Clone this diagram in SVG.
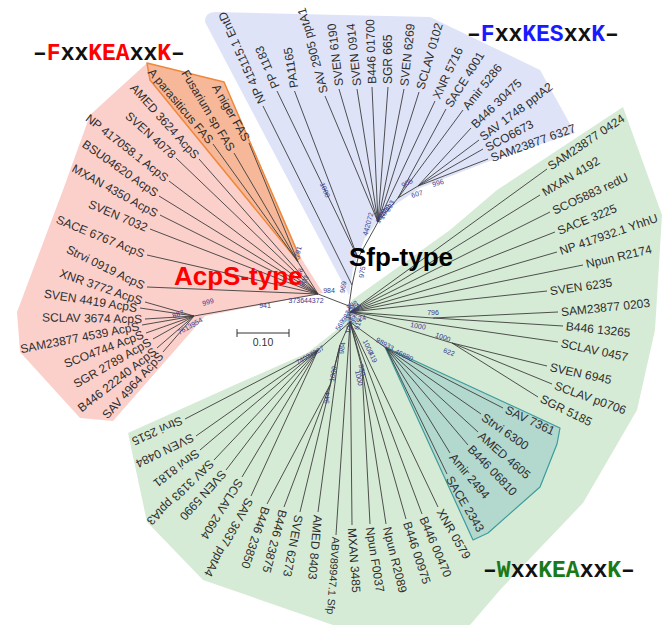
<svg xmlns="http://www.w3.org/2000/svg" width="669" height="625" viewBox="0 0 669 625">
<style>
.leaf{font-family:"Liberation Sans",Arial,sans-serif;font-size:12px;fill:#2e2e2e}
.bs{font-family:"Liberation Sans",Arial,sans-serif;font-size:7px;fill:#3a3a8c}
.br path{stroke:#3d3d3d;stroke-width:0.9;fill:none}
.motif{font-family:"Liberation Mono","Courier New",monospace;font-size:23px;font-weight:bold;fill:#111}
.type{font-family:"Liberation Sans",Arial,sans-serif;font-size:26px;font-weight:bold}
</style>
<rect width="669" height="625" fill="#ffffff"/>
<g id="regions">
<path id="bg-blue" d="M205,22 Q205,12 215,12 L430,17 L540,70 L575,133 L487,162 L420,188 L387,210 L365,238 L353,268 L349,295 Z" fill="#dee3f7"/>
<path id="bg-pink" d="M147,63 L224,82 L301,258 L323,293 L205,316 L113,421 L80,418 L20,352 L17,312 L63,190 L90,115 Z" fill="#fbd0cb"/>
<path id="bg-orange" d="M147,63 L224,82 L300,258 L297,260 L150,80 Z" fill="#f6b898" stroke="#ef883a" stroke-width="1.5" stroke-linejoin="round"/>
<path id="bg-green" d="M128,433 L230,387 L307,353 L343,325 L352,300 L450,230 L497,190 L623,107 L662,215 L655,330 L637,410 L583,503 L500,590 L470,625 L333,625 L203,580 L147,522 Z" fill="#d6ebd5"/>
<path id="bg-teal" d="M385,347 L560,428 L557,444 L540,487 L488,533 L473,540 Z" fill="#b3d8ce" stroke="#3d9c9c" stroke-width="1.2" stroke-linejoin="round"/>
</g>
<g id="connectors" class="br">
<path d="M263,106 L352,285"/><path d="M277,91 L358,258"/><path d="M294.5,91 L358,258"/>
<path d="M325,96 L378,222"/><path d="M339,89 L378,222"/><path d="M357,89 L378,222"/><path d="M372,87 L378,222"/><path d="M388,87 L378,222"/><path d="M404,89 L378,222"/><path d="M419,92 L378,222"/><path d="M435,101 L378,222"/>
<path d="M446,109 L398,198"/><path d="M463,110 L398,198"/>
<path d="M471,128 L418,186"/><path d="M479,140 L418,186"/><path d="M483,149 L418,186"/><path d="M488,159 L418,186"/>
<path d="M418,186 L398,198 L378,222 L358,258 L352,285 L349,306"/>
<path d="M213,144 L298,262"/><path d="M234,153 L298,262"/><path d="M249,143 L298,262"/><path d="M298,262 L318,294"/>
<path d="M199,159 L318,294"/><path d="M176,158 L318,294"/><path d="M169,181 L318,294"/><path d="M159,196 L318,294"/><path d="M160,215 L318,294"/><path d="M150,229 L318,294"/><path d="M147,255 L318,294"/><path d="M147,287 L318,294"/>
<path d="M145,302 L194,316"/><path d="M140,308 L194,316"/><path d="M145,319 L194,316"/><path d="M142,325 L194,316"/><path d="M146,333 L194,316"/><path d="M153,339 L194,316"/><path d="M157,348 L194,316"/><path d="M163,352 L194,316"/>
<path d="M194,316 L318,294 L349,306"/>
<path d="M349,306 L350,312 L350,322"/>
<path d="M547,169 L350,312"/><path d="M540,195 L350,312"/><path d="M550,212 L350,312"/><path d="M555,232 L350,312"/><path d="M557,252 L350,312"/><path d="M583,265 L350,312"/><path d="M547,291 L350,312"/>
<path d="M558,312 L433,318"/><path d="M563,326 L433,318"/><path d="M433,318 L350,312"/>
<path d="M558,342 L350,312"/>
<path d="M547,366 L452,343"/><path d="M552,384 L452,343"/><path d="M538,397 L452,343"/><path d="M452,343 L350,312"/>
<path d="M503,408 L386,348"/><path d="M481,414 L386,348"/><path d="M478,432 L386,348"/><path d="M468,445 L386,348"/><path d="M450,453 L386,348"/><path d="M447,474 L386,348"/><path d="M386,348 L350,322"/>
<path d="M438,507 L350,322"/><path d="M422,514 L350,322"/><path d="M406,519 L350,322"/>
<path d="M386,524 L362,368"/><path d="M370,524 L362,368"/><path d="M362,368 L350,322"/>
<path d="M352,525 L350,322"/><path d="M336,535 L350,322"/>
<path d="M318,512 L340,345"/><path d="M300,512 L340,345"/>
<path d="M284,507 L330,385"/><path d="M267,504 L330,385"/><path d="M330,385 L340,345 L350,322"/>
<path d="M251,496 L318,350"/><path d="M242,477 L318,350"/><path d="M226,470 L318,350"/><path d="M214,460 L318,350"/><path d="M200,450 L318,350"/><path d="M196,436 L318,350"/><path d="M185,419 L318,350"/><path d="M318,350 L350,322"/>
</g>
<g id="leaves-sfp" class="leaf">
<g id="n-entd"><text transform="translate(262,103) rotate(-114)" dy="0.35em">NP 415115.1 EntD</text></g>
<g id="n-pp1183"><text transform="translate(276,88) rotate(-113)" dy="0.35em">PP 1183</text></g>
<g id="n-pa1165"><text transform="translate(294,88) rotate(-99)" dy="0.35em">PA1165</text></g>
<g id="n-sav2905"><text transform="translate(324,93) rotate(-105)" dy="0.35em">SAV 2905 pptA1</text></g>
<g id="n-sven6190"><text transform="translate(339,86) rotate(-97)" dy="0.35em">SVEN 6190</text></g>
<g id="n-sven0914"><text transform="translate(357,86) rotate(-96)" dy="0.35em">SVEN 0914</text></g>
<g id="n-b44601700"><text transform="translate(372,84) rotate(-92)" dy="0.35em">B446 01700</text></g>
<g id="n-sgr665"><text transform="translate(388,84) rotate(-90)" dy="0.35em">SGR 665</text></g>
<g id="n-sven6269"><text transform="translate(404,86) rotate(-84)" dy="0.35em">SVEN 6269</text></g>
<g id="n-sclav0102"><text transform="translate(420,89) rotate(-74)" dy="0.35em">SCLAV 0102</text></g>
<g id="n-xnr5716"><text transform="translate(436,98) rotate(-65)" dy="0.35em">XNR 5716</text></g>
<g id="n-sace4001"><text transform="translate(448,106) rotate(-58)" dy="0.35em">SACE 4001</text></g>
<g id="n-amir5286"><text transform="translate(465,108) rotate(-51)" dy="0.35em">Amir 5286</text></g>
<g id="n-b44630475"><text transform="translate(473,126) rotate(-44)" dy="0.35em">B446 30475</text></g>
<g id="n-sav1748"><text transform="translate(481,138) rotate(-37)" dy="0.35em">SAV 1748 pptA2</text></g>
<g id="n-sco6673"><text transform="translate(486,148) rotate(-28)" dy="0.35em">SCO6673</text></g>
<g id="n-sam6327"><text transform="translate(491,158) rotate(-20)" dy="0.35em">SAM23877 6327</text></g>
</g>
<g id="leaves-acps" class="leaf" text-anchor="end">
<g id="n-apar"><text transform="translate(211,142) rotate(50)" dy="0.35em">A parasiticus FAS</text></g>
<g id="n-fus"><text transform="translate(232,150) rotate(59)" dy="0.35em">Fusarium sp FAS</text></g>
<g id="n-anig"><text transform="translate(247,140) rotate(60)" dy="0.35em">A niger FAS</text></g>
<g id="n-amed3624"><text transform="translate(197,157) rotate(48)" dy="0.35em">AMED 3624 AcpS</text></g>
<g id="n-sven4078"><text transform="translate(174,156) rotate(42)" dy="0.35em">SVEN 4078</text></g>
<g id="n-np417058"><text transform="translate(167,179) rotate(38)" dy="0.35em">NP 417058.1 AcpS</text></g>
<g id="n-bsu"><text transform="translate(157,194) rotate(35)" dy="0.35em">BSU04620 AcpS</text></g>
<g id="n-mxan4350"><text transform="translate(157,214) rotate(29)" dy="0.35em">MXAN 4350 AcpS</text></g>
<g id="n-sven7032"><text transform="translate(147,228) rotate(23)" dy="0.35em">SVEN 7032</text></g>
<g id="n-sace6767"><text transform="translate(144,254) rotate(22)" dy="0.35em">SACE 6767 AcpS</text></g>
<g id="n-strvi0919"><text transform="translate(144,286) rotate(26)" dy="0.35em">Strvi 0919 AcpS</text></g>
<g id="n-xnr3772"><text transform="translate(142,301) rotate(19)" dy="0.35em">XNR 3772 AcpS</text></g>
<g id="n-sven4419"><text transform="translate(137,308) rotate(9)" dy="0.35em">SVEN 4419 AcpS</text></g>
<g id="n-sclav3674"><text transform="translate(142,319) rotate(1)" dy="0.35em">SCLAV 3674 AcpS</text></g>
<g id="n-sam4539"><text transform="translate(139,326) rotate(-11)" dy="0.35em">SAM23877 4539 AcpS</text></g>
<g id="n-sco4744"><text transform="translate(143,334) rotate(-21)" dy="0.35em">SCO4744 AcpS</text></g>
<g id="n-sgr2789"><text transform="translate(150,341) rotate(-30)" dy="0.35em">SGR 2789 AcpS</text></g>
<g id="n-b44622240"><text transform="translate(155,350) rotate(-38)" dy="0.35em">B446 22240 AcpS</text></g>
<g id="n-sav4964"><text transform="translate(161,354) rotate(-48)" dy="0.35em">SAV 4964 AcpS</text></g>
</g>
<g id="leaves-green" class="leaf">
<g id="n-sam0424"><text transform="translate(549,167) rotate(-34)" dy="0.35em">SAM23877 0424</text></g>
<g id="n-mxan4192"><text transform="translate(543,193) rotate(-31)" dy="0.35em">MXAN 4192</text></g>
<g id="n-sco5883"><text transform="translate(553,211) rotate(-25)" dy="0.35em">SCO5883 redU</text></g>
<g id="n-sace3225"><text transform="translate(558,231) rotate(-22)" dy="0.35em">SACE 3225</text></g>
<g id="n-yhhu"><text transform="translate(560,251) rotate(-19)" dy="0.35em">NP 417932.1 YhhU</text></g>
<g id="n-npunr2174"><text transform="translate(586,264) rotate(-13)" dy="0.35em">Npun R2174</text></g>
<g id="n-sven6235"><text transform="translate(550,291) rotate(-8)" dy="0.35em">SVEN 6235</text></g>
<g id="n-sam0203"><text transform="translate(561,312) rotate(-6)" dy="0.35em">SAM23877 0203</text></g>
<g id="n-b44613265"><text transform="translate(566,326) rotate(6)" dy="0.35em">B446 13265</text></g>
<g id="n-sclav0457"><text transform="translate(561,343) rotate(12)" dy="0.35em">SCLAV 0457</text></g>
<g id="n-sven6945"><text transform="translate(550,367) rotate(12)" dy="0.35em">SVEN 6945</text></g>
<g id="n-sclavp0706"><text transform="translate(555,385) rotate(20)" dy="0.35em">SCLAV p0706</text></g>
<g id="n-sgr5185"><text transform="translate(541,398) rotate(26)" dy="0.35em">SGR 5185</text></g>
<g id="n-sav7361"><text transform="translate(506,409) rotate(25)" dy="0.35em">SAV 7361</text></g>
<g id="n-strvi6300"><text transform="translate(483,416) rotate(35)" dy="0.35em">Strvi 6300</text></g>
<g id="n-amed4605"><text transform="translate(480,434) rotate(41)" dy="0.35em">AMED 4605</text></g>
<g id="n-b44606810"><text transform="translate(470,447) rotate(46)" dy="0.35em">B446 06810</text></g>
<g id="n-amir2494"><text transform="translate(452,455) rotate(50)" dy="0.35em">Amir 2494</text></g>
<g id="n-sace2343"><text transform="translate(449,477) rotate(59)" dy="0.35em">SACE 2343</text></g>
<g id="n-xnr0579"><text transform="translate(440,510) rotate(60)" dy="0.35em">XNR 0579</text></g>
<g id="n-b44600470"><text transform="translate(423,517) rotate(67)" dy="0.35em">B446 00470</text></g>
<g id="n-b44600975"><text transform="translate(407,522) rotate(72)" dy="0.35em">B446 00975</text></g>
<g id="n-npunr2089"><text transform="translate(387,527) rotate(76)" dy="0.35em">Npun R2089</text></g>
<g id="n-npunf0037"><text transform="translate(370,527) rotate(81)" dy="0.35em">Npun F0037</text></g>
<g id="n-mxan3485"><text transform="translate(352,528) rotate(86)" dy="0.35em">MXAN 3485</text></g>
<g id="n-abv"><text transform="translate(336,537) rotate(94)" dy="0.35em" font-size="10.5">ABV89947.1 Sfp</text></g>
<g id="n-amed8403"><text transform="translate(318,515) rotate(95)" dy="0.35em">AMED 8403</text></g>
<g id="n-sven6273"><text transform="translate(299,515) rotate(101)" dy="0.35em">SVEN 6273</text></g>
<g id="n-b44623875"><text transform="translate(283,510) rotate(105)" dy="0.35em">B446 23875</text></g>
<g id="n-b44623850"><text transform="translate(266,507) rotate(109)" dy="0.35em">B446 23850</text></g>
<g id="n-sav3637"><text transform="translate(250,499) rotate(119)" dy="0.35em">SAV 3637 pptA4</text></g>
<g id="n-sclav2604"><text transform="translate(240,480) rotate(122)" dy="0.35em">SCLAV 2604</text></g>
<g id="n-sven5990"><text transform="translate(224,472) rotate(132)" dy="0.35em">SVEN 5990</text></g>
<g id="n-sav3193"><text transform="translate(212,462) rotate(136)" dy="0.35em">SAV 3193 pptA3</text></g>
<g id="n-strvi8181"><text transform="translate(198,452) rotate(143)" dy="0.35em">Strvi 8181</text></g>
<g id="n-sven0484"><text transform="translate(193,437) rotate(154)" dy="0.35em">SVEN 0484</text></g>
<g id="n-strvi2515"><text transform="translate(182,420) rotate(156)" dy="0.35em">Strvi 2515</text></g>
</g>
<g id="bootstrap" class="bs" text-anchor="middle">
<text transform="translate(325,190) rotate(68)" dy="0.35em">1000</text>
<text transform="translate(362,272) rotate(-80)" dy="0.35em">975</text>
<text transform="translate(343,287) rotate(-80)" dy="0.35em">969</text>
<text transform="translate(407,183) rotate(-30)" dy="0.35em">905</text>
<text transform="translate(417,194) rotate(-15)" dy="0.35em">607</text>
<text transform="translate(438,183) rotate(-15)" dy="0.35em">996</text>
<text transform="translate(368,224) rotate(-75)" dy="0.35em">442072</text>
<text transform="translate(381,216) rotate(-60)" dy="0.35em">1000</text>
<text transform="translate(385,212) rotate(-60)" dy="0.35em">1000</text>
<text transform="translate(390,206) rotate(-60)" dy="0.35em">993</text>
<text transform="translate(298,252) rotate(-75)" dy="0.35em">791</text>
<text transform="translate(300,272) rotate(-70)" dy="0.35em">86</text>
<text transform="translate(304,281) rotate(-60)" dy="0.35em">903</text>
<text transform="translate(329,291)" dy="0.35em">984</text>
<text transform="translate(306,301)" dy="0.35em">373644372</text>
<text transform="translate(265,306)" dy="0.35em">941</text>
<text transform="translate(208,302) rotate(-15)" dy="0.35em">999</text>
<text transform="translate(178,314) rotate(-20)" dy="0.35em">887</text>
<text transform="translate(190,326) rotate(-30)" dy="0.35em">7613954</text>
<text transform="translate(433,313)" dy="0.35em">796</text>
<text transform="translate(418,326) rotate(10)" dy="0.35em">1000</text>
<text transform="translate(443,337) rotate(20)" dy="0.35em">1000</text>
<text transform="translate(449,352) rotate(20)" dy="0.35em">622</text>
<text transform="translate(385,344) rotate(30)" dy="0.35em">98933</text>
<text transform="translate(404,355) rotate(25)" dy="0.35em">46880</text>
<text transform="translate(368,347) rotate(65)" dy="0.35em">1000</text>
<text transform="translate(373,357) rotate(65)" dy="0.35em">419</text>
<text transform="translate(362,370) rotate(78)" dy="0.35em">930</text>
<text transform="translate(359,378) rotate(78)" dy="0.35em">1000</text>
<text transform="translate(342,348) rotate(-80)" dy="0.35em">984</text>
<text transform="translate(333,374) rotate(-80)" dy="0.35em">1000</text>
<text transform="translate(327,398) rotate(-85)" dy="0.35em">944</text>
<text transform="translate(310,355) rotate(-30)" dy="0.35em">74037287</text>
<text transform="translate(340,325) rotate(-60)" dy="0.35em">569</text>
<text transform="translate(350,312) rotate(-70)" dy="0.35em">1000</text>
<text transform="translate(354,318) rotate(-80)" dy="0.35em">999</text>
<text transform="translate(346,316) rotate(-60)" dy="0.35em">982</text>
<text transform="translate(356,309) rotate(-50)" dy="0.35em">954</text>
<text transform="translate(349,326) rotate(-80)" dy="0.35em">1000</text>
<text transform="translate(358,324) rotate(-75)" dy="0.35em">619</text>
<text transform="translate(352,305) rotate(-30)" dy="0.35em">998</text>
<text transform="translate(362,318) rotate(-10)" dy="0.35em">24</text>
</g>
<g id="scalebar">
<path d="M237,333 H289 M237,329 V337 M289,329 V337" stroke="#333" stroke-width="1" fill="none"/>
<text x="263" y="346" text-anchor="middle" font-family="Liberation Sans, Arial, sans-serif" font-size="10.5" fill="#333">0.10</text>
</g>
<g id="type-labels">
<text class="type" x="174" y="285" fill="#ff0000">AcpS-type</text>
<text class="type" x="349" y="266" fill="#000">Sfp-type</text>
</g>
<g id="motifs">
<text class="motif" x="33" y="60">–<tspan fill="#ff0000">F</tspan>xx<tspan fill="#ff0000">KEA</tspan>xx<tspan fill="#ff0000">K</tspan>–</text>
<text class="motif" x="467" y="41">–<tspan fill="#1a1aff">F</tspan>xx<tspan fill="#1a1aff">KES</tspan>xx<tspan fill="#1a1aff">K</tspan>–</text>
<text class="motif" x="483" y="577">–<tspan fill="#1a7a1a">W</tspan>xx<tspan fill="#1a7a1a">KEA</tspan>xx<tspan fill="#1a7a1a">K</tspan>–</text>
</g>
</svg>
